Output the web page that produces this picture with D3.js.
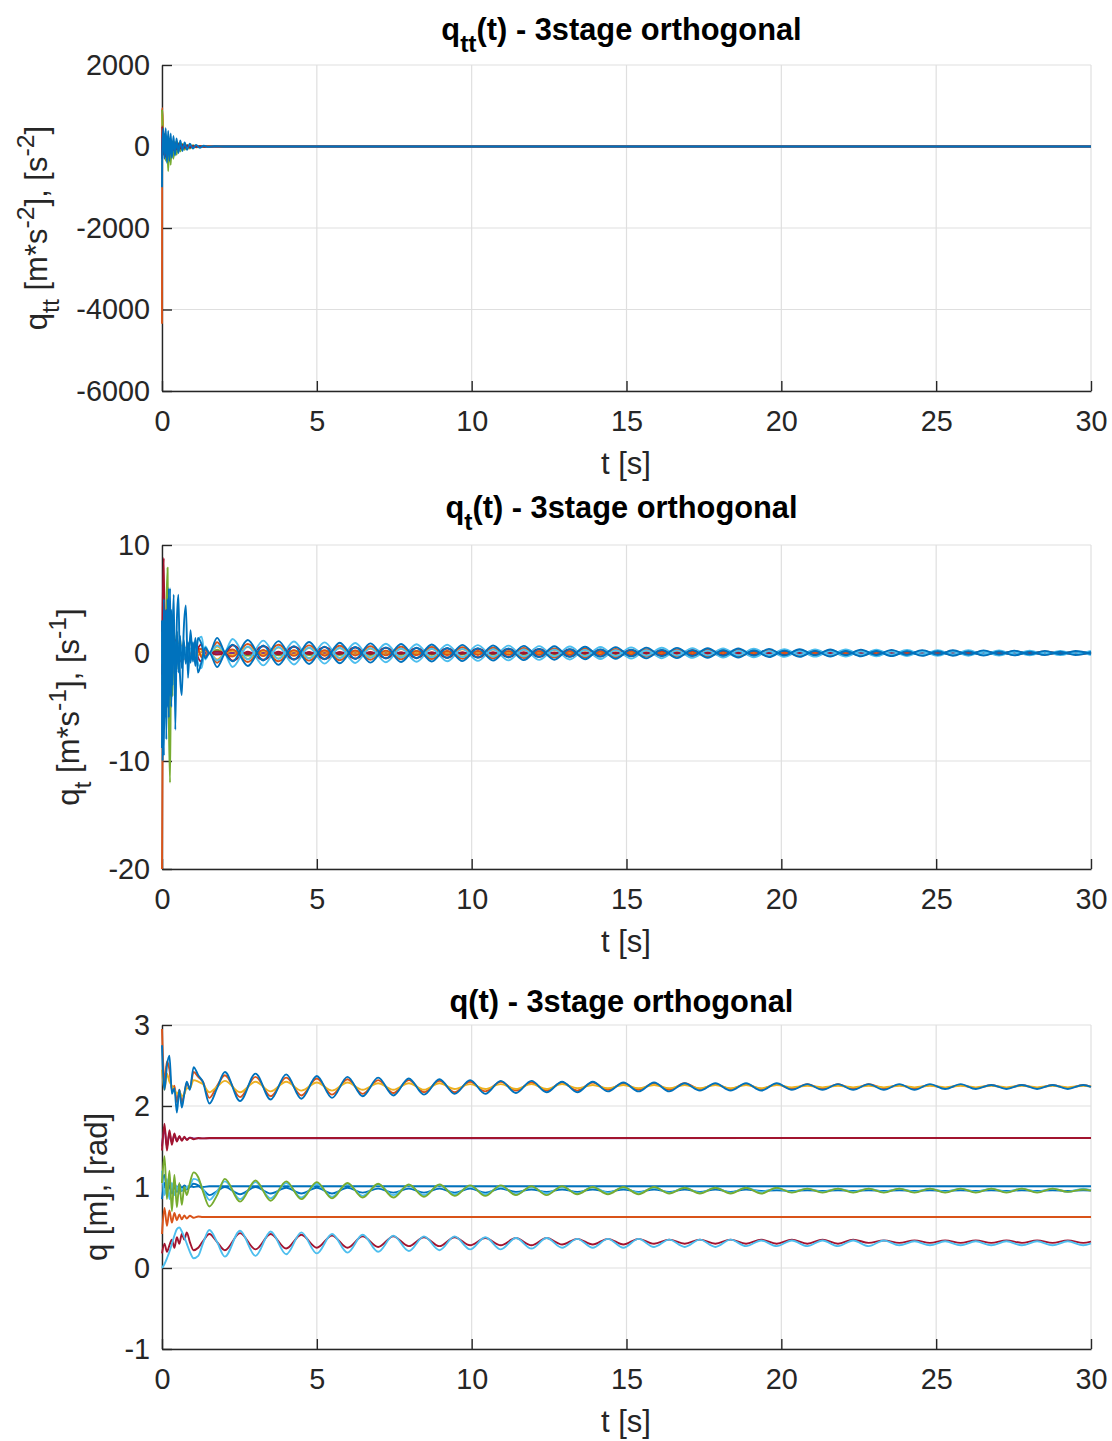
<!DOCTYPE html>
<html><head><meta charset="utf-8">
<script src="https://cdn.jsdelivr.net/npm/d3@7"></script>
<style>body{margin:0;background:#fff}svg{display:block}</style>
</head><body><svg id="c" width="1112" height="1441"></svg>
<script>
const COLORS = ["#0072BD","#D95319","#EDB120","#7E2F8E","#77AC30","#4DBEEE","#A2142F"];
const xTicks = [0,5,10,15,20,25,30];
const yTicksAcc = [2000,0,-2000,-4000,-6000];
const yTicksVel = [10,0,-10,-20];
const yTicksPos = [3,2,1,0,-1];

// ---------- q(t) ----------
const tPosT = [0,0.08,0.16,0.24,0.32,0.40,0.48,0.56,0.64,0.72,0.80,0.90,1.02,1.17,1.32,1.53,1.78];
const tPosS = [2.03,2.52,3.02,3.51,4.01,4.50,5.00,5.49,5.99,6.48,6.98,7.47,7.97,8.46,8.96,9.45,9.95,10.44,10.94,11.43,11.93,12.42,12.92,13.41,13.91,14.40,14.90,15.39,15.89,16.38,16.88,17.37,17.87,18.36,18.86,19.35,19.85,20.34,20.84,21.33,21.83,22.32,22.82,23.31,23.81,24.30,24.80,25.29,25.79,26.28,26.78,27.27,27.77,28.26,28.76,29.25,29.75,30];
const qBlueUp = [2.75,2.20,2.50,2.62,2.15,2.22,1.92,2.20,1.98,2.15,2.30,2.20,2.48,2.38,2.30,2.03,2.22,
 2.42,2.06,2.40,2.08,2.39,2.09,2.37,2.10,2.36,2.12,2.35,2.13,2.34,2.14,2.33,2.15,2.32,2.15,2.31,2.16,2.31,2.17,2.30,2.17,2.30,2.18,2.29,2.18,2.29,2.18,2.28,2.19,2.28,2.19,2.28,2.19,2.28,2.20,2.27,2.20,2.27,2.20,2.27,2.20,2.27,2.20,2.27,2.21,2.27,2.21,2.26,2.21,2.26,2.21,2.26,2.21,2.26,2.235];
const qOrangeUp = [2.95,2.30,2.55,2.45,2.20,2.25,2.05,2.20,2.05,2.15,2.28,2.22,2.42,2.36,2.30,2.10,2.25,
 2.38,2.11,2.36,2.12,2.35,2.13,2.34,2.14,2.33,2.15,2.32,2.16,2.32,2.17,2.31,2.17,2.30,2.18,2.30,2.19,2.29,2.19,2.29,2.19,2.29,2.20,2.28,2.20,2.28,2.20,2.28,2.21,2.27,2.21,2.27,2.21,2.27,2.21,2.27,2.21,2.27,2.21,2.27,2.22,2.26,2.22,2.26,2.22,2.26,2.22,2.26,2.22,2.26,2.22,2.26,2.22,2.26,2.24];
const qYellowUp = [2.45,2.20,2.40,2.30,2.25,2.20,2.15,2.18,2.12,2.15,2.22,2.22,2.32,2.30,2.27,2.17,2.24,
 2.31,2.17,2.30,2.18,2.30,2.19,2.29,2.19,2.29,2.20,2.28,2.20,2.28,2.20,2.28,2.21,2.27,2.21,2.27,2.21,2.27,2.21,2.27,2.22,2.26,2.22,2.26,2.22,2.26,2.22,2.26,2.22,2.26,2.22,2.26,2.22,2.26,2.23,2.25,2.23,2.25,2.23,2.25,2.23,2.25,2.23,2.25,2.23,2.25,2.23,2.25,2.23,2.25,2.23,2.25,2.23,2.25,2.24];
const qGreenMid = [1.05,1.38,0.85,1.20,0.70,1.15,0.75,1.05,0.78,1.00,0.90,1.05,1.18,1.12,0.95,0.76,0.90,
 1.10,0.82,1.08,0.83,1.07,0.85,1.06,0.86,1.05,0.87,1.04,0.87,1.03,0.88,1.03,0.89,1.02,0.89,1.02,0.90,1.01,0.90,1.01,0.91,1.00,0.91,1.00,0.91,1.00,0.92,0.99,0.92,0.99,0.92,0.99,0.92,0.99,0.93,0.98,0.93,0.98,0.93,0.98,0.93,0.98,0.93,0.98,0.93,0.98,0.93,0.98,0.93,0.98,0.93,0.98,0.94,0.97,0.955];
const qLightBlueMid = [1.20,0.90,1.10,0.85,1.05,0.90,1.00,0.92,0.98,0.95,1.00,1.02,1.10,1.08,0.98,0.84,0.95,
 1.07,0.85,1.06,0.86,1.05,0.87,1.04,0.88,1.04,0.89,1.03,0.90,1.02,0.90,1.02,0.91,1.01,0.91,1.01,0.91,1.00,0.92,1.00,0.92,1.00,0.93,0.99,0.93,0.99,0.93,0.99,0.93,0.99,0.93,0.99,0.94,0.98,0.94,0.98,0.94,0.98,0.94,0.98,0.94,0.98,0.94,0.98,0.94,0.98,0.94,0.98,0.94,0.98,0.94,0.98,0.94,0.98,0.96];
const qBlueMid = [0.85,1.05,0.90,1.02,0.92,1.00,0.94,0.98,0.95,0.99,0.97,1.00,1.04,1.02,0.97,0.90,0.95,
 1.00,0.91,1.00,0.92,0.99,0.92,0.99,0.92,0.99,0.93,0.98,0.93,0.98,0.93,0.98,0.93,0.98,0.93,0.98,0.94,0.97,0.94,0.97,0.94,0.97,0.94,0.97,0.94,0.97,0.94,0.97,0.94,0.97,0.94,0.97,0.95,0.96,0.95,0.96,0.95,0.96,0.95,0.96,0.95,0.96,0.95,0.96,0.95,0.96,0.95,0.96,0.95,0.96,0.95,0.96,0.95,0.96,0.955];
const qLightBlueLow = [0.00,0.05,0.12,0.20,0.30,0.40,0.48,0.50,0.45,0.38,0.30,0.20,0.12,0.15,0.30,0.47,0.32,
 0.14,0.46,0.15,0.45,0.17,0.44,0.18,0.42,0.19,0.41,0.20,0.40,0.21,0.39,0.22,0.39,0.23,0.38,0.23,0.37,0.24,0.37,0.25,0.36,0.25,0.36,0.25,0.36,0.26,0.35,0.26,0.35,0.26,0.35,0.27,0.34,0.27,0.34,0.27,0.34,0.27,0.34,0.27,0.34,0.28,0.33,0.28,0.33,0.28,0.33,0.28,0.33,0.28,0.33,0.28,0.33,0.28,0.305];
const qRedLow = [0.18,0.30,0.20,0.28,0.35,0.25,0.38,0.30,0.42,0.35,0.44,0.32,0.22,0.25,0.33,0.42,0.32,
 0.22,0.43,0.23,0.42,0.24,0.41,0.25,0.40,0.25,0.39,0.26,0.39,0.27,0.38,0.27,0.38,0.28,0.37,0.28,0.37,0.28,0.37,0.29,0.36,0.29,0.36,0.29,0.36,0.30,0.35,0.30,0.35,0.30,0.35,0.30,0.35,0.30,0.35,0.30,0.35,0.30,0.35,0.31,0.34,0.31,0.34,0.31,0.34,0.31,0.34,0.31,0.34,0.31,0.34,0.31,0.34,0.31,0.325];
const tPosFlat = [0,0.08,0.16,0.24,0.32,0.40,0.48,0.56,0.64,0.72,0.80,0.90,1.02,1.17,1.32,1.53,1.78,30];
const qPurple16 = [1.50,1.72,1.50,1.66,1.55,1.64,1.57,1.62,1.58,1.61,1.59,1.61,1.60,1.60,1.60,1.60,1.60,1.605];
const qRed16 = [1.45,1.78,1.45,1.70,1.52,1.66,1.56,1.63,1.57,1.62,1.58,1.61,1.59,1.605,1.60,1.605,1.605,1.605];
const qBlueFlat = [1.05,1.15,0.95,1.08,0.97,1.05,0.98,1.03,0.99,1.02,1.00,1.01,1.00,1.01,1.00,1.01,1.01,1.01];
const qOrangeFlat = [0.42,0.74,0.52,0.71,0.56,0.68,0.59,0.66,0.60,0.65,0.61,0.645,0.62,0.635,0.63,0.63,0.63,0.63];

// ---------- q_tt(t) ----------
const tAcc = [0,0.005,0.04,0.08,0.12,0.16,0.20,0.24,0.28,0.32,0.37,0.42,0.47,0.53,0.59,0.66,0.73,0.81,0.90,1.0,1.1,1.22,1.35,1.5,1.7,2.0,30];
const accOrange = [-4350,950,350,-150,300,-200,200,-150,180,-100,120,-90,100,-60,70,-40,50,-30,30,-20,15,-10,8,-5,3,0,0];
const accYellow = [800,700,200,-50,150,-100,100,-80,90,-60,70,-50,50,-40,40,-30,30,-20,20,-10,10,-5,5,-3,2,0,0];
const accPurple = [100,-100,150,-100,100,-80,80,-60,50,-40,40,-30,30,-20,20,-15,10,-8,5,-3,0,0,0,0,0,0,0];
const accGreen = [900,850,-100,300,-350,250,-600,200,-450,150,-300,120,-200,80,-120,60,-80,40,-50,30,-20,15,-10,5,0,0,0];
const accLightBlue = [200,-150,300,-250,200,-200,180,-150,130,-120,100,-90,80,-60,50,-40,30,-25,20,-15,10,-8,5,-3,0,0,0];
const accRed = [-300,500,-200,300,-250,200,-180,150,-120,100,-90,80,-70,60,-50,40,-30,25,-20,15,-10,8,-5,3,0,0,0];
const accBlue = [-1000,-200,450,-300,450,-400,380,-350,320,-280,260,-220,200,-160,150,-110,100,-80,70,-50,40,-30,20,-10,5,0,0];

// ---------- q_t(t) ----------
const tVelT = [0,0.02,0.06,0.10,0.14,0.18,0.22,0.26,0.30,0.34,0.38,0.43,0.48,0.53,0.58,0.64,0.70,0.77,0.84,0.92,1.00,1.08,1.16,1.28,1.40,1.53,1.78,2.03];
const tVelS = [2.28,2.77,3.27,3.76,4.26,4.75,5.25,5.74,6.24,6.73,7.23,7.72,8.22,8.71,9.21,9.70,10.20,10.69,11.19,11.68,12.18,12.67,13.17,13.66,14.16,14.65,15.15,15.64,16.14,16.63,17.13,17.62,18.12,18.61,19.11,19.60,20.10,20.59,21.09,21.58,22.08,22.57,23.07,23.56,24.06,24.55,25.05,25.54,26.04,26.53,27.03,27.52,28.02,28.51,29.01,29.50,30.00];
const tVelFlat = [0,0.02,0.06,0.10,0.14,0.18,0.22,0.26,0.30,0.34,0.38,0.43,0.48,0.53,0.58,0.64,0.70,0.77,0.84,0.92,1.00,1.08,1.16,1.28,1.40,1.53,1.78,2.03,30];
const vBlueA = [-8.8,3,-9.5,4,-8,5,-6,6,-5,2,5.4,-7.1,3,5.4,-2,-3.9,2,4.4,-2.3,2.1,-0.8,1.4,-1.8,-0.8,0.5,0,1.4,0,
 -0.78,1.20,-0.69,1.10,-0.64,1.02,-0.59,0.95,-0.55,0.89,-0.52,0.83,-0.49,0.79,-0.46,0.75,-0.44,0.70,-0.41,0.66,-0.38,0.62,-0.36,0.58,-0.34,0.54,-0.31,0.50,-0.29,0.47,-0.27,0.44,-0.25,0.41,-0.23,0.38,-0.22,0.35,-0.20,0.33,-0.19,0.31,-0.18,0.29,-0.17,0.27,-0.16,0.25,-0.15,0.24,-0.14,0.22,-0.13,0.20,-0.12,0.19,-0.11];
const vBlueB = [3,-10,5,-6,4,-5,6,-4,4,-3,3,-2.5,2,-1.8,1.6,-1.4,1.2,-1,1,-0.9,1.0,-1.2,1.4,0.8,-0.5,0,-1.3,0,
 0.78,-1.20,0.69,-1.10,0.64,-1.02,0.59,-0.95,0.55,-0.89,0.52,-0.83,0.49,-0.79,0.46,-0.75,0.44,-0.70,0.41,-0.66,0.38,-0.62,0.36,-0.58,0.34,-0.54,0.31,-0.50,0.29,-0.47,0.27,-0.44,0.25,-0.41,0.23,-0.38,0.22,-0.35,0.20,-0.33,0.19,-0.31,0.18,-0.29,0.17,-0.27,0.16,-0.25,0.15,-0.24,0.14,-0.22,0.13,-0.20,0.12,-0.19,0.11];
const vLbA = [2,-4,3,-5,3,-3,2,-2.5,2,-2,1.5,-1.5,1.2,-1.2,1,-1,0.8,-0.8,0.7,-0.7,0.6,-0.8,1.2,1.5,-0.6,0,-0.7,0,
 1.30,-0.60,1.15,-0.55,1.06,-0.51,0.98,-0.48,0.92,-0.45,0.86,-0.42,0.81,-0.40,0.77,-0.38,0.73,-0.35,0.68,-0.33,0.64,-0.31,0.60,-0.29,0.56,-0.27,0.52,-0.25,0.48,-0.24,0.45,-0.22,0.42,-0.21,0.39,-0.19,0.36,-0.18,0.34,-0.17,0.32,-0.16,0.30,-0.15,0.28,-0.14,0.26,-0.13,0.25,-0.12,0.23,-0.11,0.21,-0.10,0.20,-0.10,0.19];
const vLbB = [-1,2,-2,3,-2,2,-1.5,1.5,-1.2,1.2,-1,1,-0.8,0.8,-0.6,0.6,-0.5,0.5,-0.4,0.4,-0.4,0.6,-0.9,-1.4,0.6,0,0.7,0,
 -1.30,0.60,-1.15,0.55,-1.06,0.51,-0.98,0.48,-0.92,0.45,-0.86,0.42,-0.81,0.40,-0.77,0.38,-0.73,0.35,-0.68,0.33,-0.64,0.31,-0.60,0.29,-0.56,0.27,-0.52,0.25,-0.48,0.24,-0.45,0.22,-0.42,0.21,-0.39,0.19,-0.36,0.18,-0.34,0.17,-0.32,0.16,-0.30,0.15,-0.28,0.14,-0.26,0.13,-0.25,0.12,-0.23,0.11,-0.21,0.10,-0.20,0.10,-0.19];
const vOrA = [-20,-8.5,2,-4,3,-3,2.5,-2,2,-1.5,1.5,-1.2,1,-0.8,0.8,-0.6,0.6,-0.5,0.5,-0.4,0.4,-0.3,0.3,-0.4,0.3,0,1.0,0,
 -0.33,0.84,-0.29,0.77,-0.27,0.71,-0.25,0.67,-0.23,0.62,-0.22,0.58,-0.20,0.55,-0.19,0.53,-0.18,0.49,-0.17,0.46,-0.16,0.43,-0.15,0.41,-0.14,0.38,-0.13,0.35,-0.12,0.33,-0.11,0.31,-0.11,0.29,-0.10,0.27,-0.09,0.25,-0.09,0.23,-0.08,0.22,-0.08,0.20,-0.07,0.19,-0.07,0.18,-0.06,0.17,-0.06,0.15,-0.05,0.14,-0.05,0.13,-0.05];
const vOrB = [2,-3,3,-2.5,2,-2,1.5,-1.5,1.2,-1,1,-0.8,0.8,-0.6,0.6,-0.5,0.5,-0.4,0.4,-0.3,0.3,-0.3,0.3,0.4,-0.3,0,-0.9,0,
 0.33,-0.84,0.29,-0.77,0.27,-0.71,0.25,-0.67,0.23,-0.62,0.22,-0.58,0.20,-0.55,0.19,-0.53,0.18,-0.49,0.17,-0.46,0.16,-0.43,0.15,-0.41,0.14,-0.38,0.13,-0.35,0.12,-0.33,0.11,-0.31,0.11,-0.29,0.10,-0.27,0.09,-0.25,0.09,-0.23,0.08,-0.22,0.08,-0.20,0.07,-0.19,0.07,-0.18,0.06,-0.17,0.06,-0.15,0.05,-0.14,0.05,-0.13,0.05];
const vYeA = [1,-2,2,-2,1.5,-1.5,1.2,-1.2,1,-1,0.8,-0.8,0.6,-0.6,0.5,-0.5,0.4,-0.4,0.3,-0.3,0.3,-0.3,0.3,-0.2,0.2,0,0.6,0,
 -0.20,0.54,-0.17,0.50,-0.16,0.46,-0.15,0.43,-0.14,0.40,-0.13,0.37,-0.12,0.36,-0.12,0.34,-0.11,0.32,-0.10,0.30,-0.10,0.28,-0.09,0.26,-0.08,0.24,-0.08,0.23,-0.07,0.21,-0.07,0.20,-0.06,0.18,-0.06,0.17,-0.05,0.16,-0.05,0.15,-0.05,0.14,-0.05,0.13,-0.04,0.12,-0.04,0.11,-0.04,0.11,-0.03,0.10,-0.03,0.09,-0.03,0.09,-0.03];
const vYeB = [-1,1.5,-1.5,1.2,-1,1,-0.8,0.8,-0.6,0.6,-0.5,0.5,-0.4,0.4,-0.3,0.3,-0.3,0.3,-0.2,0.2,-0.2,0.2,-0.2,0.2,-0.2,0,-0.6,0,
 0.20,-0.54,0.17,-0.50,0.16,-0.46,0.15,-0.43,0.14,-0.40,0.13,-0.37,0.12,-0.36,0.12,-0.34,0.11,-0.32,0.10,-0.30,0.10,-0.28,0.09,-0.26,0.08,-0.24,0.08,-0.23,0.07,-0.21,0.07,-0.20,0.06,-0.18,0.06,-0.17,0.05,-0.16,0.05,-0.15,0.05,-0.14,0.05,-0.13,0.04,-0.12,0.04,-0.11,0.04,-0.11,0.03,-0.10,0.03,-0.09,0.03,-0.09,0.03];
const vGreen = [0,2,5,-3,4,7.9,-6,-12,3,-4,3,-2,2,-1.5,1.5,-1,1,-0.7,0.7,-0.5,0.5,-0.4,0.4,-0.3,0.3,0,0.3,0,
 0.26,-0.24,0.23,-0.22,0.21,-0.20,0.20,-0.19,0.18,-0.18,0.17,-0.17,0.16,-0.16,0.15,-0.15,0.15,-0.14,0.14,-0.13,0.13,-0.12,0.12,-0.12,0.11,-0.11,0.10,-0.10,0.10,-0.09,0.09,-0.09,0.08,-0.08,0.08,-0.08,0.07,-0.07,0.07,-0.07,0.06,-0.06,0.06,-0.06,0.06,-0.05,0.05,-0.05,0.05,-0.05,0.05,-0.04,0.04,-0.04,0.04,-0.04,0.04];
const vRedA = [0,4,8.8,-5,4,-4,3,-3,2.5,-2,2,-1.5,1.5,-1,1,-0.8,0.8,-0.6,0.6,-0.5,0.5,-0.4,0.4,0.8,-0.4,0,-0.15,0,
 0.72,-0.12,0.63,-0.11,0.58,-0.10,0.54,-0.10,0.51,-0.09,0.47,-0.08,0.45,-0.08,0.42,-0.08,0.40,-0.07,0.37,-0.07,0.35,-0.06,0.33,-0.06,0.31,-0.05,0.29,-0.05,0.26,-0.05,0.25,-0.04,0.23,-0.04,0.21,-0.04,0.20,-0.04,0.19,-0.03,0.18,-0.03,0.17,-0.03,0.15,-0.03,0.14,-0.03,0.13,-0.02,0.13,-0.02,0.12,-0.02,0.11,-0.02,0.10];
const vRedB = [-2,3,-4,3,-2.5,2,-2,1.8,-1.5,1.5,-1.2,1.2,-1,0.8,-0.8,0.6,-0.6,0.5,-0.4,0.4,-0.3,0.3,-0.4,-0.8,0.4,0,0.15,0,
 -0.72,0.12,-0.63,0.11,-0.58,0.10,-0.54,0.10,-0.51,0.09,-0.47,0.08,-0.45,0.08,-0.42,0.08,-0.40,0.07,-0.37,0.07,-0.35,0.06,-0.33,0.06,-0.31,0.05,-0.29,0.05,-0.26,0.05,-0.25,0.04,-0.23,0.04,-0.21,0.04,-0.20,0.04,-0.19,0.03,-0.18,0.03,-0.17,0.03,-0.15,0.03,-0.14,0.03,-0.13,0.02,-0.13,0.02,-0.12,0.02,-0.11,0.02,-0.10];
const vPurple = [0.5,-1,1,-0.8,0.8,-0.6,0.6,-0.5,0.5,-0.4,0.4,-0.3,0.3,-0.3,0.3,-0.2,0.2,-0.2,0.2,-0.1,0.1,-0.1,0.1,0.1,0,0,0,0,0];

const FONT = '"Liberation Sans", Arial, Helvetica, sans-serif';
const svg = d3.select("#c");
svg.append("rect").attr("width",1112).attr("height",1441).attr("fill","#fff");
const X0 = 162, X1 = 1091;
const INK = "#262626";
const TICK_FS = 28.8, LAB_FS = 31, TITLE_FS = 30.8;

function rich(textSel, parts, base){
  let shift = 0;
  parts.forEach(p=>{
    const ts = textSel.append("tspan").text(p.t);
    let target = 0, fs = base;
    if(p.sub){ target = base*0.40; fs = base*0.8; }
    if(p.sup){ target = -base*0.42; fs = base*0.8; }
    ts.attr("dy", target - shift).attr("font-size", fs);
    shift = target;
  });
}

const tQ = tPosT.concat(tPosS);
const tV = tVelT.concat(tVelS);
const panels = [
 {top:65, bottom:391, dom:[-6000,2000], ticks:yTicksAcc,
  title:[{t:"q"},{t:"tt",sub:true},{t:"(t) - 3stage orthogonal"}], titleY:40,
  ylab:[{t:"q"},{t:"tt",sub:true},{t:" [m*s"},{t:"-2",sup:true},{t:"], [s"},{t:"-2",sup:true},{t:"]"}], ylabX:47,
  series:[
   {t:tAcc,v:accOrange,c:1},{t:tAcc,v:accYellow,c:2},{t:tAcc,v:accPurple,c:3},{t:tAcc,v:accGreen,c:4},
   {t:tAcc,v:accLightBlue,c:5},{t:tAcc,v:accRed,c:6},{t:tAcc,v:accBlue,c:0}]},
 {top:545, bottom:869, dom:[-20,10], ticks:yTicksVel,
  title:[{t:"q"},{t:"t",sub:true},{t:"(t) - 3stage orthogonal"}], titleY:518,
  ylab:[{t:"q"},{t:"t",sub:true},{t:" [m*s"},{t:"-1",sup:true},{t:"], [s"},{t:"-1",sup:true},{t:"]"}], ylabX:79,
  series:[
   {t:tVelFlat,v:vPurple,c:3},{t:tV,v:vGreen,c:4},
   {t:tV,v:vYeA,c:2},{t:tV,v:vYeB,c:2},
   {t:tV,v:vOrA,c:1},{t:tV,v:vOrB,c:1},
   {t:tV,v:vRedA,c:6},{t:tV,v:vRedB,c:6},
   {t:tV,v:vLbA,c:5},{t:tV,v:vLbB,c:5},
   {t:tV,v:vBlueA,c:0},{t:tV,v:vBlueB,c:0}]},
 {top:1025, bottom:1349, dom:[-1,3], ticks:yTicksPos,
  title:[{t:"q(t) - 3stage orthogonal"}], titleY:1012,
  ylab:[{t:"q [m], [rad]"}], ylabX:107,
  series:[
   {t:tQ,v:qOrangeUp,c:1},{t:tQ,v:qYellowUp,c:2},{t:tPosFlat,v:qPurple16,c:3},
   {t:tPosFlat,v:qBlueFlat,c:0},{t:tQ,v:qBlueMid,c:0},{t:tQ,v:qLightBlueMid,c:5},{t:tQ,v:qGreenMid,c:4},
   {t:tPosFlat,v:qOrangeFlat,c:1},{t:tPosFlat,v:qRed16,c:6},{t:tQ,v:qRedLow,c:6},{t:tQ,v:qLightBlueLow,c:5},
   {t:tQ,v:qBlueUp,c:0}]}
];

panels.forEach((p,i)=>{
  const x = d3.scaleLinear().domain([0,30]).range([X0,X1]);
  const y = d3.scaleLinear().domain(p.dom).range([p.bottom,p.top]);
  const g = svg.append("g");
  // grid (drawn beneath everything)
  g.append("g").selectAll("line").data(xTicks).join("line")
    .attr("x1",d=>x(d)).attr("x2",d=>x(d)).attr("y1",p.top).attr("y2",p.bottom)
    .attr("stroke","#dfdfdf").attr("stroke-width",1.2);
  g.append("g").selectAll("line").data(p.ticks).join("line")
    .attr("x1",X0).attr("x2",X1).attr("y1",d=>y(d)).attr("y2",d=>y(d))
    .attr("stroke","#dfdfdf").attr("stroke-width",1.2);
  // axes (beneath data, like the original)
  const ax = g.append("g").attr("transform",`translate(0,${p.bottom})`)
    .call(d3.axisBottom(x).tickValues(xTicks).tickFormat(d3.format("d")).tickSizeInner(-10).tickSizeOuter(0).tickPadding(20));
  const ay = g.append("g").attr("transform",`translate(${X0},0)`)
    .call(d3.axisLeft(y).tickValues(p.ticks).tickFormat(d3.format("d")).tickSizeInner(-10).tickSizeOuter(0).tickPadding(12));
  [ax,ay].forEach(a=>{
    a.attr("font-family",FONT).attr("font-size",TICK_FS);
    a.select(".domain").attr("stroke",INK).attr("stroke-width",1.4);
    a.selectAll(".tick line").attr("stroke",INK).attr("stroke-width",1.4);
    a.selectAll(".tick text").attr("fill",INK);
  });
  ay.selectAll(".tick text").text(d=>String(d));
  // data
  const cid = "clip"+i;
  g.append("clipPath").attr("id",cid).append("rect")
    .attr("x",X0-2).attr("y",p.top-2).attr("width",X1-X0+4).attr("height",p.bottom-p.top+4);
  const line = d3.line().x(d=>x(d[0])).y(d=>y(d[1])).curve(d3.curveMonotoneX);
  const lg = g.append("g").attr("clip-path",`url(#${cid})`);
  p.series.forEach(s=>{
    const n = Math.min(s.t.length, s.v.length);
    const pts = d3.range(n).map(k=>[s.t[k], s.v[k]]);
    lg.append("path").attr("d",line(pts)).attr("fill","none")
      .attr("stroke",COLORS[s.c]).attr("stroke-width",1.9).attr("stroke-linejoin","round");
  });
  // title
  const tt = g.append("text").attr("x",621.5).attr("y",p.titleY).attr("text-anchor","middle")
    .attr("font-family",FONT).attr("font-weight","bold").attr("font-size",TITLE_FS).attr("fill","#000");
  rich(tt, p.title, TITLE_FS);
  // x label
  g.append("text").attr("x",626).attr("y",p.bottom+83).attr("text-anchor","middle")
    .attr("font-family",FONT).attr("font-size",LAB_FS).attr("fill",INK).text("t [s]");
  // y label
  const yl = g.append("text").attr("transform",`translate(${p.ylabX},${(p.top+p.bottom)/2}) rotate(-90)`)
    .attr("text-anchor","middle").attr("font-family",FONT).attr("font-size",LAB_FS).attr("fill",INK);
  rich(yl, p.ylab, LAB_FS);
});
</script></body></html>
